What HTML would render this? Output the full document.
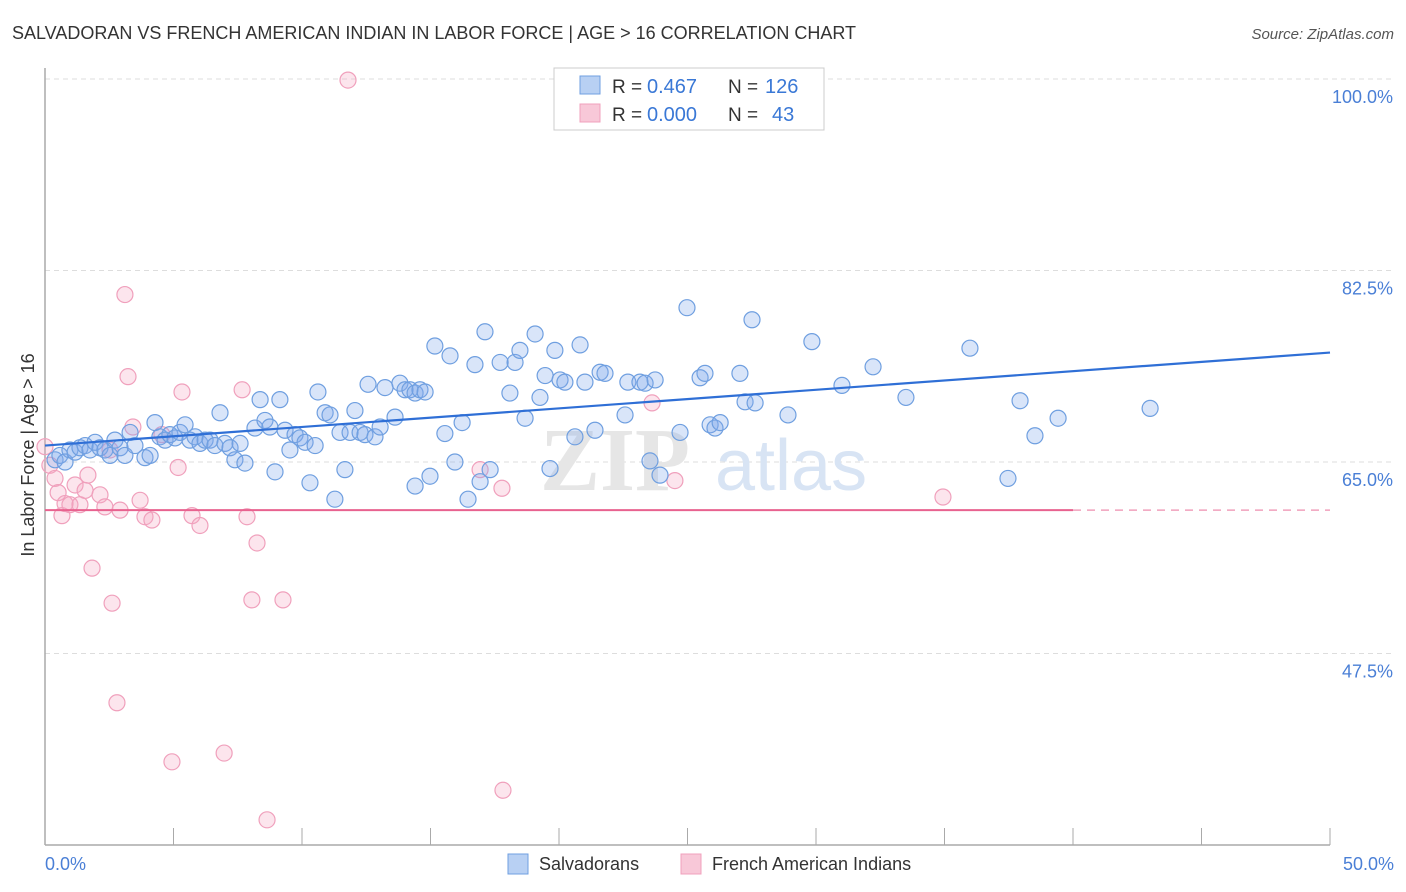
<!DOCTYPE html>
<html><head><meta charset="utf-8"><style>
body{margin:0;background:#fff;font-family:"Liberation Sans",sans-serif;}
svg{display:block}
</style></head><body>
<svg id="chart" width="1406" height="892" xmlns="http://www.w3.org/2000/svg">
<text x="12" y="39" font-size="18" fill="#333">SALVADORAN VS FRENCH AMERICAN INDIAN IN LABOR FORCE | AGE &gt; 16 CORRELATION CHART</text>
<text x="1394" y="39" font-size="15" fill="#555" font-style="italic" text-anchor="end">Source: ZipAtlas.com</text>
<g id="grid"></g>
<text x="690" y="490" font-size="90" fill="#e6e6e6" font-family="Liberation Serif,serif" font-weight="bold" text-anchor="end">ZIP</text>
<text x="715" y="490" font-size="72" fill="#d8e4f4">atlas</text>
<g id="pts"></g>
<g id="lines"></g>
<text transform="translate(34,455) rotate(-90)" font-size="18" fill="#333" text-anchor="middle">In Labor Force | Age &gt; 16</text>
<text x="45" y="870" font-size="18" fill="#4a7fd6">0.0%</text>
<text x="1394" y="870" font-size="18" fill="#4a7fd6" text-anchor="end">50.0%</text>
<g>
<rect x="554" y="68" width="270" height="62" fill="#fff" stroke="#ccc"/>
<rect x="580" y="76" width="20" height="18" fill="#b8d0f3" stroke="#6f9fe0"/>
<text x="612" y="93" font-size="19" fill="#333">R =</text>
<text x="647" y="93" font-size="20" fill="#3a78d6">0.467</text>
<text x="728" y="93" font-size="19" fill="#333">N =</text>
<text x="765" y="93" font-size="20" fill="#3a78d6">126</text>
<rect x="580" y="104" width="20" height="18" fill="#f8c8d8" stroke="#f0a0bc"/>
<text x="612" y="121" font-size="19" fill="#333">R =</text>
<text x="647" y="121" font-size="20" fill="#3a78d6">0.000</text>
<text x="728" y="121" font-size="19" fill="#333">N =</text>
<text x="772" y="121" font-size="20" fill="#3a78d6">43</text>
</g>
<g><rect x="508" y="854" width="20" height="20" fill="#b8d0f3" stroke="#6f9fe0"/><text x="539" y="870" font-size="18" fill="#333">Salvadorans</text></g>
<g><rect x="681" y="854" width="20" height="20" fill="#f8c8d8" stroke="#f0a0bc"/><text x="712" y="870" font-size="18" fill="#333">French American Indians</text></g>
</svg>
<script>
const yTicks=[100,82.5,65,47.5];
const yTickLabels=["100.0%","82.5%","65.0%","47.5%"];
const xTicks=[0,5,10,15,20,25,30,35,40,45,50];
const blueX=[0.39,0.58,0.78,0.97,1.17,1.36,1.56,1.75,1.95,2.14,2.33,2.53,2.72,2.92,3.11,3.31,3.5,3.89,4.09,4.28,4.47,4.67,4.86,5.06,5.25,5.45,5.64,5.84,6.03,6.23,6.42,6.61,6.81,7.0,7.2,7.39,7.59,7.78,8.17,8.37,8.56,8.75,8.95,9.14,9.34,9.53,9.73,9.92,10.12,10.31,10.51,10.62,10.9,11.09,11.28,11.48,11.67,11.87,12.06,12.26,12.45,12.57,12.84,13.04,13.23,13.62,13.81,14.01,14.2,14.4,14.59,14.79,14.4,14.98,15.17,15.56,15.76,15.95,16.23,16.46,16.73,16.93,17.12,17.32,17.71,18.09,18.29,18.48,18.68,19.07,19.26,19.46,19.65,19.84,20.04,20.23,20.62,20.82,21.01,21.4,21.6,21.79,22.57,22.68,23.15,23.35,23.54,23.74,23.93,24.71,24.98,25.49,25.68,25.88,26.07,26.27,27.04,27.24,27.51,27.63,28.91,29.84,31.01,32.22,33.5,35.99,37.47,37.94,38.52,39.42,43.0];
const blueY=[65.2,65.6,65.0,66.1,65.9,66.3,66.5,66.1,66.8,66.3,66.1,65.6,67.0,66.3,65.6,67.7,66.5,65.4,65.6,68.6,67.3,67.0,67.5,67.2,67.7,68.4,67.0,67.3,66.7,67.0,67.0,66.5,69.5,66.7,66.3,65.2,66.7,64.9,68.1,70.7,68.8,68.2,64.1,70.7,67.9,66.1,67.5,67.2,66.8,63.1,66.5,71.4,69.5,69.3,61.6,67.7,64.3,67.7,69.7,67.7,67.5,72.1,67.3,68.2,71.8,69.1,72.2,71.6,71.6,71.3,71.6,71.4,62.8,63.7,75.6,67.6,74.7,65.0,68.6,61.6,73.9,63.2,76.9,64.3,74.1,71.3,74.1,75.2,69.0,76.7,70.9,72.9,64.4,75.2,72.5,72.3,67.3,75.7,72.3,67.9,73.2,73.1,69.3,72.3,72.3,72.2,65.1,72.5,63.8,67.7,79.1,72.7,73.1,68.4,68.1,68.6,73.1,70.5,78.0,70.4,69.3,76.0,72.0,73.7,70.9,75.4,63.5,70.6,67.4,69.0,69.9];
const pinkX=[0,0.19,0.39,0.51,0.66,0.78,0.97,1.17,1.36,1.56,1.67,1.83,2.14,2.33,2.53,2.61,2.8,2.92,3.11,3.23,3.42,3.7,3.89,4.16,4.55,4.94,5.18,5.33,5.72,6.03,6.97,7.67,7.86,8.05,8.25,8.64,9.26,11.79,16.93,17.82,17.78,23.62,24.51,34.94];
const pinkY=[66.4,64.7,63.5,62.2,60.1,61.2,61.1,62.9,61.1,62.4,63.8,55.3,62.0,60.9,66.1,52.1,43.0,60.6,80.3,72.8,68.2,61.5,60.0,59.7,67.5,37.6,64.5,71.4,60.1,59.2,38.4,71.6,60.0,52.4,57.6,32.3,52.4,99.9,64.3,35.0,62.6,70.4,63.3,61.8];
const blueTrend=[66.5,75.0];
const pinkTrend=[60.6,60.6];
const X=v=>45+v/50*1285;
const Y=v=>79+(100-v)*(191.5/17.5);
const NS="http://www.w3.org/2000/svg";
function mk(tag,attrs,parent){const e=document.createElementNS(NS,tag);for(const k in attrs)e.setAttribute(k,attrs[k]);parent.appendChild(e);return e;}
const grid=document.getElementById('grid');
yTicks.forEach((t,i)=>{
 const l=mk('line',{x1:45,x2:1394,y1:Y(t),y2:Y(t),stroke:'#ddd','stroke-dasharray':'5,4'},grid);
 
 
 const tx=mk('text',{x:1393,y:Y(t)+24,'font-size':18,fill:'#4a7fd6','text-anchor':'end'},grid);
 tx.textContent=yTickLabels[i];
 
 
});
const ax=mk('line',{x1:45,x2:45,y1:68,y2:845,stroke:'#aaa','stroke-width':1.5},grid);


const bx=mk('line',{x1:45,x2:1330,y1:845,y2:845,stroke:'#aaa','stroke-width':1.5},grid);


xTicks.forEach(t=>{
 const l=mk('line',{x1:X(t),x2:X(t),y1:828,y2:845,stroke:'#aaa'},grid);
 
 
});
const pts=document.getElementById('pts');
pinkX.forEach((x,i)=>{
 const c=mk('circle',{cx:X(x),cy:Y(pinkY[i]),r:8,fill:'rgba(244,170,196,0.3)',stroke:'#f0a0bc','stroke-width':1.2},pts);
 
 
});
blueX.forEach((x,i)=>{
 const c=mk('circle',{cx:X(x),cy:Y(blueY[i]),r:8,fill:'rgba(130,170,235,0.3)',stroke:'#6f9fe0','stroke-width':1.2},pts);
 
 
});
const lines=document.getElementById('lines');
const bl=mk('line',{x1:X(0),y1:Y(blueTrend[0]),x2:X(50),y2:Y(blueTrend[1]),stroke:'#2f6fd6','stroke-width':2.2},lines);


const pl=mk('line',{x1:X(0),y1:Y(pinkTrend[0]),x2:X(40),y2:Y(pinkTrend[0]+(pinkTrend[1]-pinkTrend[0])*0.8),stroke:'#e8628f','stroke-width':2},lines);


const pd=mk('line',{x1:X(40),y1:Y(pinkTrend[0]+(pinkTrend[1]-pinkTrend[0])*0.8),x2:X(50),y2:Y(pinkTrend[1]),stroke:'#f0a0bc','stroke-width':1.5,'stroke-dasharray':'8,6'},lines);


</script>
</body></html>
